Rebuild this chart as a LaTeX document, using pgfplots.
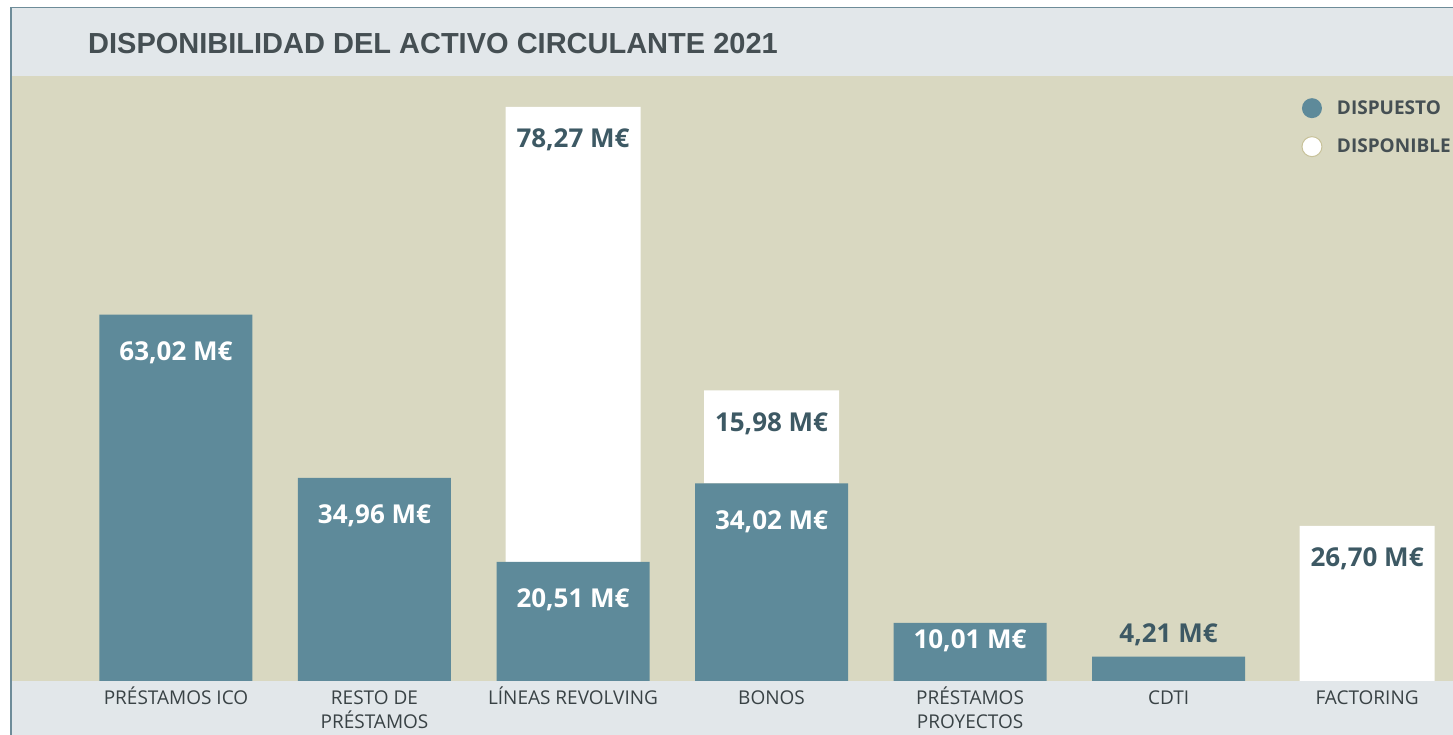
\documentclass[border=0pt]{standalone}
\usepackage{fontspec}
\setmainfont{Open Sans}
\newfontfamily\titlefont{Liberation Sans}
\newcommand\sbfont{\bfseries}
\usepackage{pgfplots}
\pgfplotsset{compat=1.18}
\usepackage{pgfplotstable}

\definecolor{dispcol}{HTML}{5E8A9A}
\definecolor{beige}{HTML}{D9D8C1}
\definecolor{band}{HTML}{E2E7EA}
\definecolor{framecol}{HTML}{6E8C99}
\definecolor{txt}{HTML}{454F53}
\definecolor{ticktxt}{HTML}{394245}
\definecolor{lbl}{HTML}{3D5964}
\definecolor{circbord}{HTML}{C8C29A}

\pgfplotstableread{
x disp dispo shift
0 63.02 0 -27
1 34.96 0 -27
2 20.51 78.27 -27
3 34.02 15.98 -27
4 10.01 0 -7
5 4.21 0 33
6 0 26.70 -27
}\data

\newcommand\lbltext{\pgfmathprintnumber[fixed,fixed zerofill,precision=2,use comma,assume math mode=true]{\pgfplotspointmeta}~M€}

\begin{document}
\begin{tikzpicture}[x=1pt,y=1pt]
\fill[band] (10,0) rectangle (1453,728);
\draw[framecol, line width=1.5pt] (10.75,0) -- (10.75,727.25) -- (1453,727.25);
\node[anchor=base west, font=\titlefont\bfseries\fontsize{29}{34}\selectfont, text=txt, inner sep=0] at (88,681)
  {DISPONIBILIDAD DEL ACTIVO CIRCULANTE 2021};
\begin{axis}[
  at={(12pt,54pt)}, anchor=south west,
  width=1441pt, height=605pt, scale only axis,
  xmin=-0.826, xmax=6.433, ymin=0, ymax=104.1,
  axis background/.style={fill=beige},
  axis line style={draw=none},
  ybar stacked,
  ytick=\empty,
  xtick={0,...,6},
  xticklabels={{PRÉSTAMOS ICO},{\vphantom{É}RESTO DE\\PRÉSTAMOS},{LÍNEAS REVOLVING},{\vphantom{É}BONOS},{PRÉSTAMOS\\PROYECTOS},{\vphantom{É}CDTI},{\vphantom{É}FACTORING}},
  major tick length=0pt,
  xticklabel style={font=\fontsize{19}{23.5}\selectfont, text=ticktxt, align=center, anchor=north, inner sep=0pt, yshift=-6pt},
  point meta=explicit,
  nodes near coords style={font=\sbfont\fontsize{26}{30}\selectfont, anchor=north, inner sep=0pt},
  legend style={at={(0.8926,0.967)}, anchor=north west, draw=none, fill=none,
    font=\sbfont\fontsize{19}{24}\selectfont, text=txt, row sep=18pt,
    nodes={inner sep=2pt}},
  legend cell align=left,
]
\addplot[fill=dispcol, draw=none, bar width=153pt,
  legend image code/.code={\fill[dispcol] (0pt,0pt) circle (10pt); \path (23pt,0pt);},
  visualization depends on={\thisrow{shift}+\thisrow{disp}*605/104.1/2 \as \lshift},
  visualization depends on={\thisrow{shift} \as \lsign},
  nodes near coords={\pgfmathfloatifflags{\pgfplotspointmeta}{0}{}{\ifdim\lsign pt>0pt \color{lbl}\else\color{white}\fi\lbltext}},
  nodes near coords style={yshift=\lshift pt},
  ] table[x=x, y=disp, meta=disp] {\data};
\addlegendentry{DISPUESTO}
\addplot[fill=white, draw=none, bar width=135pt,
  legend image code/.code={\filldraw[fill=white, draw=circbord, line width=1pt] (0pt,0pt) circle (10pt); \path (23pt,0pt);},
  visualization depends on={-22+\thisrow{dispo}*605/104.1/2 \as \wshift},
  nodes near coords={\pgfmathfloatifflags{\pgfplotspointmeta}{0}{}{\color{lbl}\lbltext}},
  nodes near coords style={yshift=\wshift pt},
  ] table[x=x, y=dispo, meta=dispo] {\data};
\addlegendentry{DISPONIBLE}
\end{axis}
\pgfresetboundingbox
\path (0,0) rectangle (1453,735);
\end{tikzpicture}
\end{document}
